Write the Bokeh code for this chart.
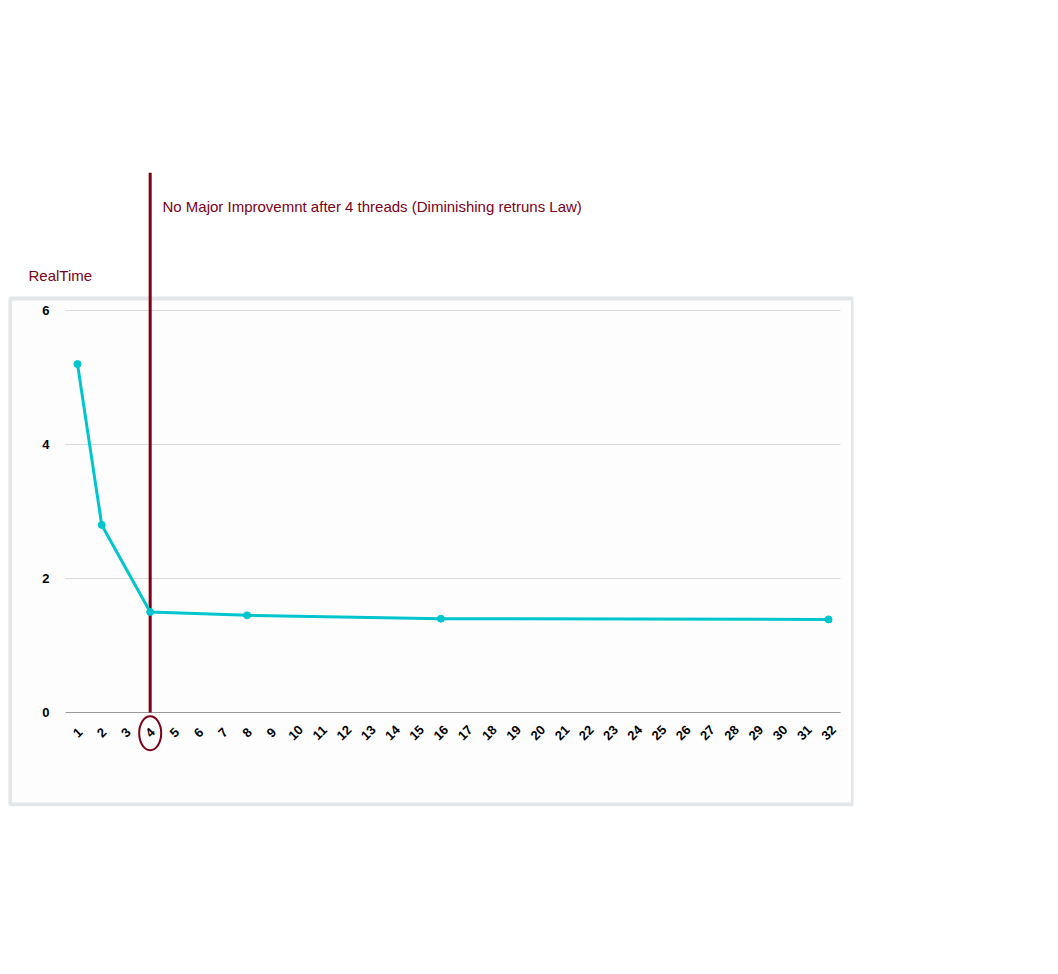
import math
from bokeh.plotting import figure
from bokeh.models import Label
from bokeh.core.properties import value
from bokeh.embed import file_html
from bokeh.resources import INLINE

threads = [1, 2, 4, 8, 16, 32]
realtime = [5.2, 2.8, 1.5, 1.45, 1.4, 1.39]
x_ticks = list(range(1, 33))
y_ticks = [0, 2, 4, 6]

W, H = 1050, 966
dark_red = "#7b0018"
x_lo, x_hi = -1.848, 33.03
y_lo, y_hi = -1.403, 8.06

p = figure(width=W, height=H, output_backend="svg", toolbar_location=None,
           x_range=(x_lo, x_hi), y_range=(y_lo, y_hi),
           min_border_left=8, min_border_right=W - 853,
           min_border_top=172, min_border_bottom=H - 806)
p.background_fill_color = "white"
p.border_fill_color = "white"
p.outline_line_color = None
p.xaxis.visible = False
p.yaxis.visible = False
p.grid.visible = False

# card behind the chart
p.quad(left=x_lo + 0.06, right=x_hi - 0.02, bottom=y_lo + 0.03, top=6.18,
       fill_color="#fdfdfd", line_color="#e3e6e9", line_width=4)

# grid and baseline
p.segment(x0=0.505, x1=32.495, y0=y_ticks[1:], y1=y_ticks[1:],
          line_color="#d9d9d9", line_width=1)
p.segment(x0=0.505, x1=32.495, y0=0, y1=0, line_color="#999999", line_width=1)

# tick labels
p.text(x=[-0.156] * len(y_ticks), y=y_ticks, text=[str(t) for t in y_ticks],
       text_align="right", text_baseline="middle",
       text_font=value("Liberation Sans"), text_font_style="bold",
       text_font_size="13px", text_color="black")
p.text(x=x_ticks, y=[-0.3] * len(x_ticks), text=[str(t) for t in x_ticks],
       angle=math.pi / 4, text_align="center", text_baseline="middle",
       text_font=value("Liberation Sans"), text_font_style="bold",
       text_font_size="13px", text_color="black")

# marker at 4 threads
p.segment(x0=4, x1=4, y0=0, y1=y_hi, line_color=dark_red, line_width=3)
p.ellipse(x=4, y=-0.31, width=22, height=34, width_units="screen",
          height_units="screen", fill_alpha=0, line_color=dark_red, line_width=2)

p.line(threads, realtime, line_color="#00c5cc", line_width=3)
p.scatter(threads, realtime, size=7, color="#00c5cc")

def sx(px):
    return px - 8

def sy(py):
    return 806 - py

p.add_layout(Label(x=sx(480), y=sy(135), x_units="screen", y_units="screen",
                   text="TEST 1", text_align="center", text_baseline="middle",
                   text_font="Liberation Sans", text_font_size="54px",
                   text_color=dark_red))
p.add_layout(Label(x=sx(162), y=sy(206), x_units="screen", y_units="screen",
                   text="No Major Improvemnt after 4 threads  (Diminishing retruns Law)",
                   text_baseline="middle", text_font="Liberation Sans",
                   text_font_size="15px", text_color=dark_red))
p.add_layout(Label(x=sx(28), y=sy(275), x_units="screen", y_units="screen",
                   text="RealTime", text_baseline="middle",
                   text_font="Liberation Sans", text_font_size="15px",
                   text_color=dark_red))
p.add_layout(Label(x=sx(865), y=sy(731), x_units="screen", y_units="screen",
                   text="NumOfThreads", text_baseline="middle",
                   text_font="Liberation Sans", text_font_size="15px",
                   text_color=dark_red))

open("out.html", "w").write(file_html(p, INLINE))
